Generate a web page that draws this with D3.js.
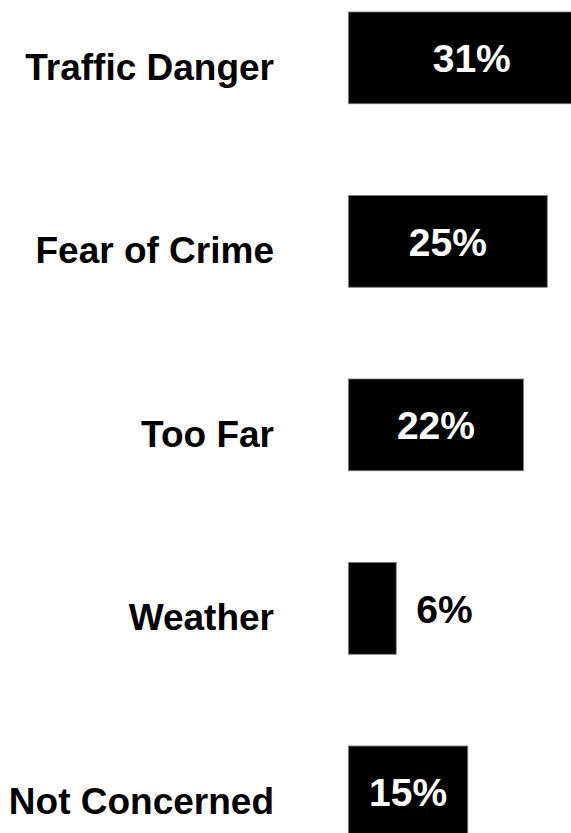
<!DOCTYPE html>
<html>
<head>
<meta charset="utf-8">
<script src="https://cdn.jsdelivr.net/npm/d3@7"></script>
<style>
  html, body { margin: 0; padding: 0; background: #fff; }
  svg { display: block; }
  text { font-family: "Liberation Sans", Arial, Helvetica, sans-serif; font-weight: bold; }
</style>
</head>
<body>
<svg id="chart" width="571" height="833"></svg>
<script>
const categories = ["Traffic Danger", "Fear of Crime", "Too Far", "Weather", "Not Concerned"];
const values = [31, 25, 22, 6, 15];
const valueLabels = ["31%", "25%", "22%", "6%", "15%"];

const W = 571, H = 833;
const svg = d3.select("#chart");

const y = d3.scaleBand()
  .domain(categories)
  .range([12, 837.75])
  .paddingInner(0.5)
  .paddingOuter(0);

// category label centres (slightly lower than bar centres)
const yLab = d3.scalePoint()
  .domain(categories)
  .range([67, 801]);

const x = d3.scaleLinear()
  .domain([0, 100])
  .range([348.5, 348.5 + 795]);

const data = categories.map((c, i) => ({ cat: c, val: values[i], label: valueLabels[i] }));
const inside = d => (x(d.val) - x(0)) > 80;

// bars
svg.append("g").selectAll("rect")
  .data(data)
  .join("rect")
  .attr("x", x(0))
  .attr("y", d => y(d.cat))
  .attr("width", d => x(d.val) - x(0))
  .attr("height", y.bandwidth())
  .attr("fill", "#000")
  .attr("stroke", "#777")
  .attr("stroke-width", 0.8);

// category labels
svg.append("g").selectAll("text")
  .data(data)
  .join("text")
  .attr("x", 274)
  .attr("y", d => yLab(d.cat))
  .attr("text-anchor", "end")
  .attr("dominant-baseline", "central")
  .attr("font-size", 37)
  .attr("fill", "#000")
  .text(d => d.cat);

// value labels
svg.append("g").selectAll("text")
  .data(data)
  .join("text")
  .attr("x", d => inside(d) ? (x(0) + x(d.val)) / 2 : x(d.val) + 20)
  .attr("y", d => y(d.cat) + y.bandwidth() / 2 + 1)
  .attr("text-anchor", d => inside(d) ? "middle" : "start")
  .attr("dominant-baseline", "central")
  .attr("font-size", 39)
  .attr("fill", d => inside(d) ? "#fff" : "#000")
  .text(d => d.label);
</script>
</body>
</html>
